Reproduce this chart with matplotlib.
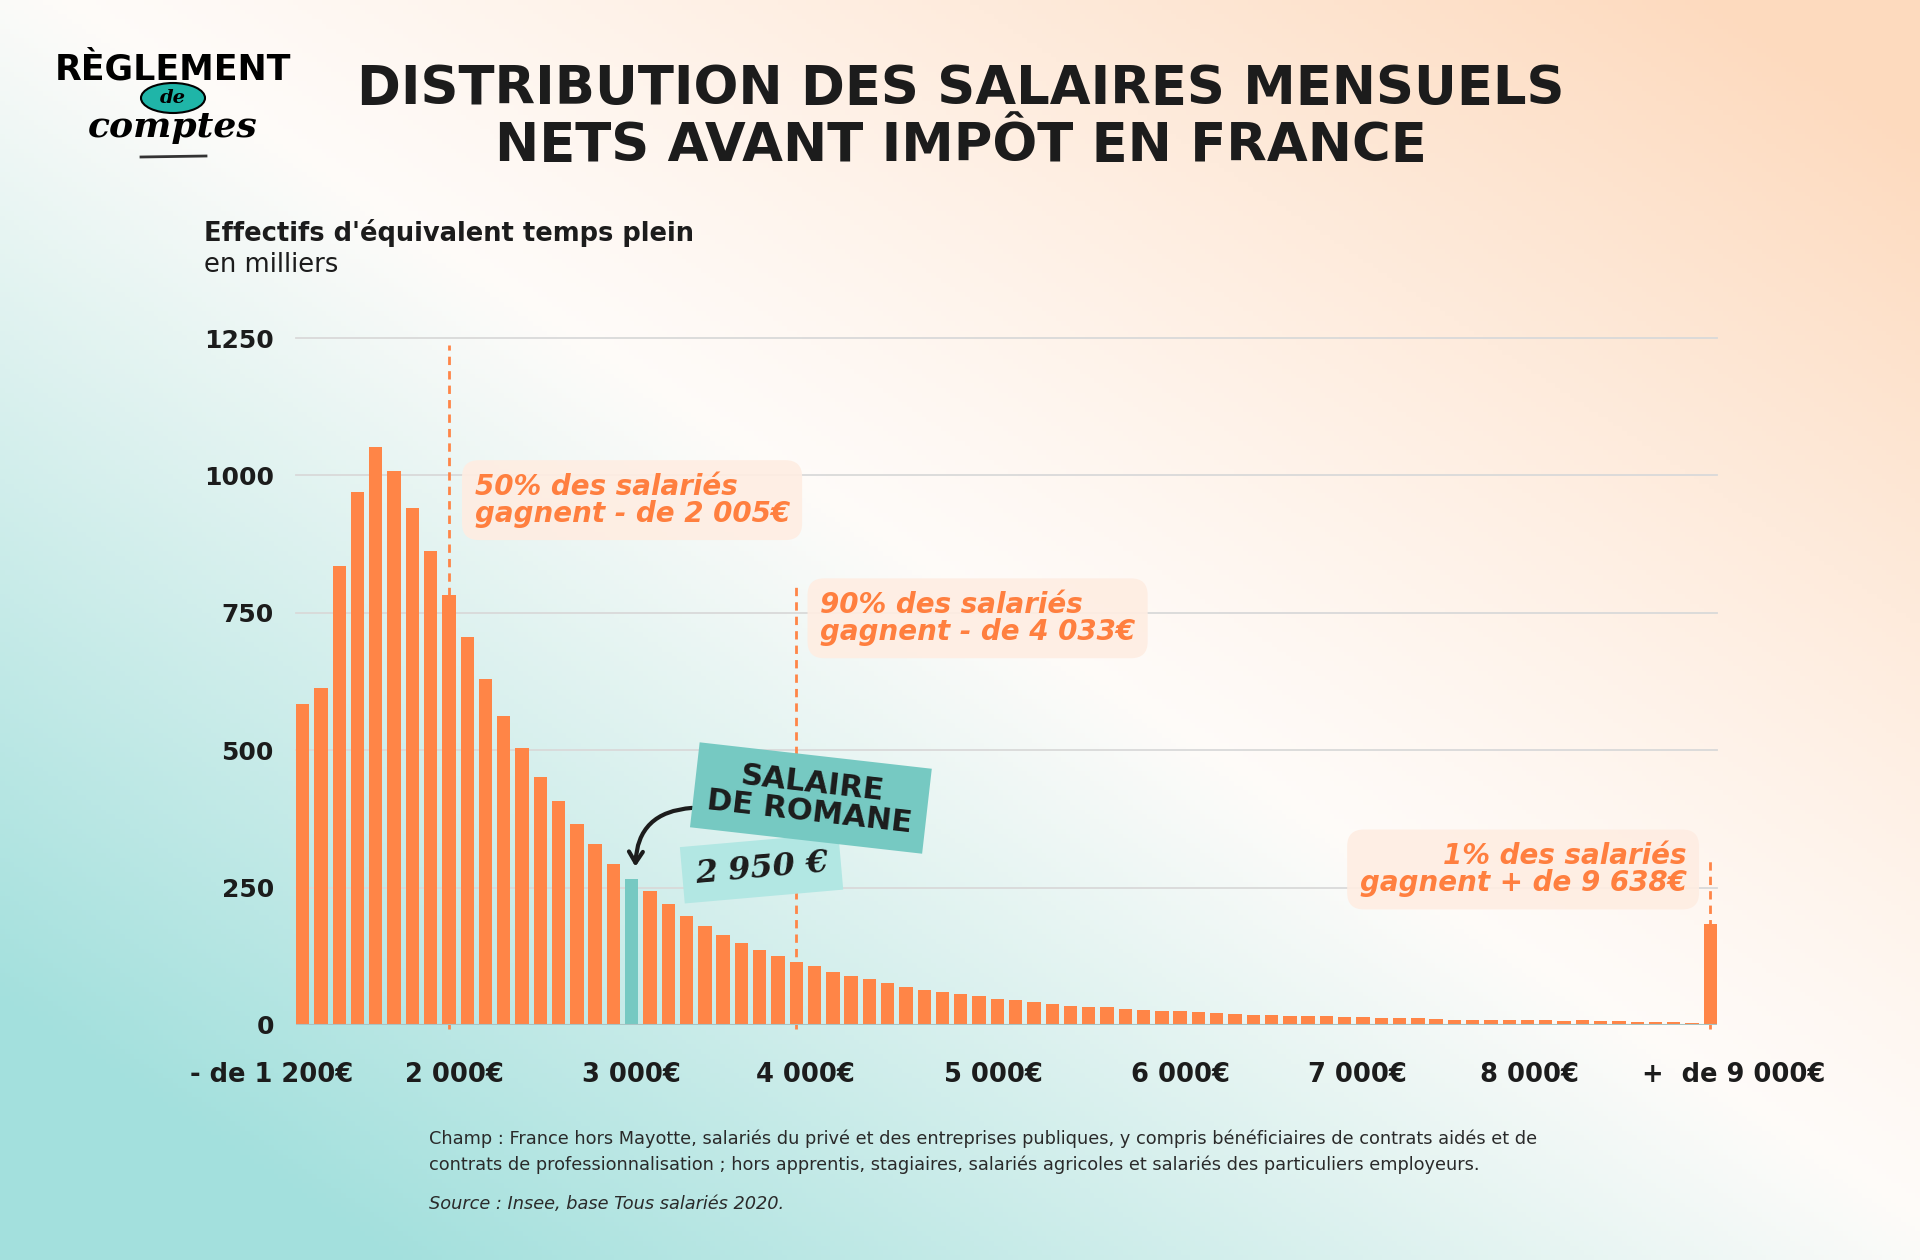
import numpy as np
import matplotlib
matplotlib.use("Agg")
from matplotlib import pyplot as plt
from matplotlib.patches import Ellipse
from matplotlib.transforms import blended_transform_factory

# effectifs (milliers) par tranche de salaire, de "- de 1200" a "+ de 9000"
effectifs = [584, 613, 835, 969, 1052, 1008, 940, 863, 782, 706, 629, 563, 504, 452, 407, 365,
             329, 293, 266, 243, 220,
             199, 180, 164, 150, 137, 125, 114, 107, 97, 89, 83, 76, 70, 64, 60, 56, 52, 48, 45,
             42, 39, 35, 33,
             32, 30, 28, 26, 25, 23, 22, 20, 19, 18, 16, 16, 16, 15, 14, 13, 12, 12, 11, 10, 10,
             10, 9, 9, 9, 8, 9, 7, 7, 6, 6, 6, 4, 183]
idx_romane = 18
salaire_romane = '2 950 €'
idx_median = 8
idx_d9 = 27
idx_c99 = len(effectifs) - 1
yticks = [0, 250, 500, 750, 1000, 1250]
xtick_labels = ['- de 1 200€', '2 000€', '3 000€', '4 000€', '5 000€', '6 000€', '7 000€', '8 000€', '+  de 9 000€']
xtick_pos = [-1.7, 8.3, 18.0, 27.5, 37.8, 48.0, 57.7, 67.1, 78.3]  # placement des etiquettes (indices de barres)

ORANGE = '#FF8547'
ORANGE_TXT = '#FF7F3F'
TEAL = '#76C9C2'
TEAL_LIGHT = '#B2E7E3'
NOIR = '#1C1C1C'

W, H = 1920, 1260
fig = plt.figure(figsize=(W / 100, H / 100), dpi=100)

def px(x, y):
    return x / W, 1 - y / H

# fond en degrade
bg = fig.add_axes([0, 0, 1, 1], zorder=-10)
xx, yy = np.meshgrid(np.linspace(0, 1, 400), np.linspace(0, 1, 263))
u = (xx + (1 - yy)) / 2
peche = np.array([253, 218, 190]) / 255
blanc = np.array([255, 252, 250]) / 255
turquoise = np.array([163, 224, 221]) / 255
wp = np.clip((u - 0.5) / 0.45, 0, 1)[..., None] ** 1.2
wt = np.clip((0.52 - u) / 0.42, 0, 1)[..., None] ** 1.0
img = blanc * (1 - wp - wt) + peche * wp + turquoise * wt
bg.imshow(np.clip(img, 0, 1), extent=[0, 1, 0, 1], aspect='auto', origin='upper')
bg.axis('off')

# graphique
ax = fig.add_axes([296 / W, 1 - 1025 / H, 1421 / W, (1025 - 338) / H])
ax.set_facecolor('none')
x = np.arange(len(effectifs))
couleurs = [TEAL if i == idx_romane else ORANGE for i in x]
ax.bar(x, effectifs, width=0.73, color=couleurs, zorder=3)
for v in yticks[1:]:
    ax.axhline(v, color='#D9D9D9', lw=1.3, zorder=1, clip_on=False)
ax.axhline(0, color='#A8C4C4', lw=1.5, zorder=4)
for s in ax.spines.values():
    s.set_visible(False)
ax.set_yticks(yticks)
ax.set_yticklabels([str(v) for v in yticks], fontsize=18, fontweight='bold', color=NOIR)
ax.tick_params(axis='y', length=0, pad=16)
ax.set_xticks([])
trans = blended_transform_factory(ax.transData, ax.transAxes)
for p, lab in zip(xtick_pos, xtick_labels):
    ax.text(p, -0.073, lab, transform=trans, fontsize=18.5, fontweight='bold', color=NOIR,
            ha='center', va='center', clip_on=False)

# lignes de seuils
dash = dict(color=ORANGE, lw=2, ls=(0, (3, 2.2)), zorder=2, clip_on=False)
ax.plot([idx_median] * 2, [-8, 1237], **dash)
ax.plot([idx_d9] * 2, [-8, 797], **dash)
ax.plot([idx_c99] * 2, [-8, 299], **dash)
ax.set_xlim(-0.365, len(effectifs) - 1 + 0.365)
ax.set_ylim(0, 1250)

boite = dict(boxstyle='round,pad=0.45,rounding_size=0.6', fc='#FFEDE2', ec='none', alpha=0.9)
ax.text(9.4, 955, '50% des salariés\ngagnent - de 2 005€', fontsize=20, fontweight='bold',
        style='italic', color=ORANGE_TXT, va='center', ha='left', linespacing=0.95, bbox=boite, zorder=5)
ax.text(28.3, 740, '90% des salariés\ngagnent - de 4 033€', fontsize=20, fontweight='bold',
        style='italic', color=ORANGE_TXT, va='center', ha='left', linespacing=0.95, bbox=boite, zorder=5)
ax.text(75.7, 283, '1% des salariés\ngagnent + de 9 638€', fontsize=20, fontweight='bold',
        style='italic', color=ORANGE_TXT, va='center', ha='right', multialignment='right',
        linespacing=0.95, bbox=boite, zorder=5)

# salaire de Romane
ax.text(27.8, 413, 'SALAIRE\nDE ROMANE', fontsize=22, fontweight='bold', color=NOIR, ha='center',
        va='center', rotation=-6.5, rotation_mode='anchor', linespacing=1.0, zorder=7,
        bbox=dict(boxstyle='square,pad=0.45', fc=TEAL, ec='none'))
ax.text(25.1, 285, salaire_romane, fontsize=23, fontweight='bold', style='italic', family='DejaVu Serif',
        color=NOIR, ha='center', va='center', rotation=5, rotation_mode='anchor', zorder=6,
        bbox=dict(boxstyle='square,pad=0.4', fc=TEAL_LIGHT, ec='none'))
ax.annotate('', xy=(idx_romane + 0.2, effectifs[idx_romane] + 22), xytext=(21.3, 395),
            arrowprops=dict(arrowstyle='->,head_width=0.5,head_length=0.8', lw=3, color=NOIR,
                            connectionstyle='arc3,rad=0.45', shrinkA=0, shrinkB=0), zorder=6)

# titres
fig.text(*px(961, 89), 'DISTRIBUTION DES SALAIRES MENSUELS', fontsize=38, fontweight='heavy',
         color=NOIR, ha='center', va='center')
fig.text(*px(961, 146), 'NETS AVANT IMPÔT EN FRANCE', fontsize=38, fontweight='heavy',
         color=NOIR, ha='center', va='center')
fig.text(*px(204, 233), "Effectifs d'équivalent temps plein", fontsize=18.5, fontweight='bold',
         color=NOIR, ha='left', va='center')
fig.text(*px(204, 265), 'en milliers', fontsize=18.5, color=NOIR, ha='left', va='center')

# logo
fig.text(*px(173, 70), 'RÈGLEMENT', fontsize=25, fontweight='heavy', color='black', ha='center', va='center')
lx, ly = px(173, 98)
fig.patches.append(Ellipse((lx, ly), 64 / W, 30 / H, transform=fig.transFigure, fc='#1FB5A8',
                           ec='black', lw=1.5))
fig.text(lx, ly, 'de', fontsize=14, style='italic', fontweight='bold', family='DejaVu Serif',
         color='black', ha='center', va='center')
fig.text(*px(173, 127), 'comptes', fontsize=26, style='italic', fontweight='bold', family='DejaVu Serif',
         color='black', ha='center', va='center')
fig.lines.append(plt.Line2D([141 / W, 206 / W], [1 - 157 / H, 1 - 156 / H], transform=fig.transFigure,
                            color='#333333', lw=2))

# notes
fig.text(*px(429, 1139), 'Champ : France hors Mayotte, salariés du privé et des entreprises publiques, '
         'y compris bénéficiaires de contrats aidés et de', fontsize=12.8, color='#2A2A2A', ha='left', va='center')
fig.text(*px(429, 1165), 'contrats de professionnalisation ; hors apprentis, stagiaires, salariés agricoles '
         'et salariés des particuliers employeurs.', fontsize=12.8, color='#2A2A2A', ha='left', va='center')
fig.text(*px(429, 1204), 'Source : Insee, base Tous salariés 2020.', fontsize=12.8, style='italic',
         color='#2A2A2A', ha='left', va='center')

fig.savefig('out.png', dpi=100)
